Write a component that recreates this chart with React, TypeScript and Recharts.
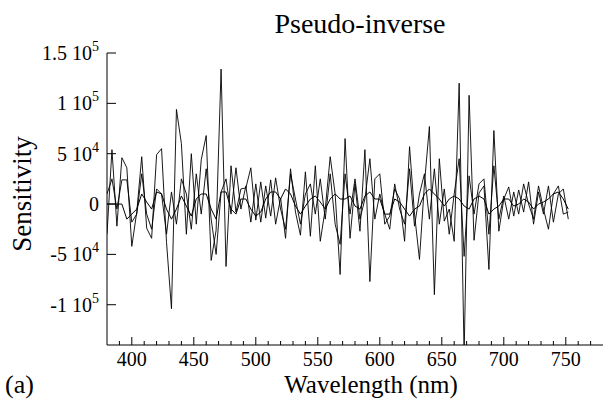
import React from 'react';
import { LineChart, Line, XAxis, YAxis } from 'recharts';

const wavelengths = [
  380, 384, 388, 392, 396, 400, 404, 408, 412, 416, 420, 424, 428, 432, 436, 440, 444, 448, 452, 456,
  460, 464, 468, 472, 476, 480, 484, 488, 492, 496, 500, 504, 508, 512, 516, 520, 524, 528, 532, 536,
  540, 544, 548, 552, 556, 560, 564, 568, 572, 576, 580, 584, 588, 592, 596, 600, 604, 608, 612, 616,
  620, 624, 628, 632, 636, 640, 644, 648, 652, 656, 660, 664, 668, 672, 676, 680, 684, 688, 692, 696,
  700, 704, 708, 712, 716, 720, 724, 728, 732, 736, 740, 744, 748, 752,
];

const seriesA = [
  -30000, 54000, -22000, 46000, 36000, -42000, -8000, 47000, -24000, -34000, 49000, 55000, -38000, -104000, 94000, 60000, -30000, 50000, -20000, 44000,
  68000, -56000, -26000, 134000, -62000, 38000, -8000, 15000, 16000, 36000, -16000, 22000, -14000, 24000, -20000, 6000, -34000, 35000, -8000, -31000,
  32000, -32000, 38000, -37000, -5000, 47000, 10000, -70000, 65000, -34000, 20000, -27000, 54000, -77000, 25000, 30000, -20000, -12000, 15000, 5000,
  -37000, 57000, -10000, -55000, 20000, 77000, -90000, 45000, -17000, -5000, -37000, 120000, -150000, 108000, -36000, 11000, 18000, -65000, 73000, -27000,
  5000, 17000, -12000, 14000, -8000, 22000, -20000, 12000, -10000, 18000, -18000, 10000, 15000, -15000,
];

const seriesB = [
  10000, 25000, -5000, 24000, 24000, -18000, -10000, 30000, -10000, -25000, 15000, 10000, -30000, 12000, -20000, 25000, 10000, -25000, 30000, -10000,
  35000, -15000, -50000, 12000, 25000, -10000, 36000, -5000, 18000, -18000, 20000, -18000, 18000, -12000, 26000, -5000, -25000, 30000, 5000, -20000,
  10000, 20000, -10000, 25000, -15000, 30000, -20000, -40000, 30000, -10000, 25000, -15000, 5000, 45000, -15000, 10000, -10000, -25000, 20000, -5000,
  -20000, 35000, -22000, 10000, 30000, -15000, 35000, -20000, 15000, -30000, 10000, 45000, -52000, 28000, -10000, 20000, 25000, -30000, 38000, -15000,
  8000, -15000, 12000, -10000, 20000, 0, -15000, 18000, -5000, -25000, 10000, 18000, -10000, -8000,
];

const seriesC = [
  0, 0, 0, 0, -15000, -10000, -5000, 10000, 2000, -5000, 12000, 10000, -5000, -15000, -5000, 8000, -2000, -12000, 5000, 10000,
  10000, -5000, -15000, 12000, 12000, -5000, -10000, 5000, 5000, -5000, -12000, -8000, 5000, 12000, 12000, 5000, 15000, 10000, -2000, -10000,
  -2000, 5000, 8000, 2000, -5000, 5000, 10000, 5000, 5000, 8000, -2000, -5000, 8000, 12000, 5000, 5000, -10000, -10000, 5000, 2000,
  -5000, -12000, -5000, -2000, 10000, 15000, 10000, 5000, -2000, 5000, 8000, 5000, -2000, -5000, 5000, 8000, 5000, -10000, -5000, -2000,
  5000, 5000, -2000, 0, 5000, 2000, -5000, 0, 2000, 5000, 10000, 12000, 5000, -5000,
];

const xTicks = [390, 400, 410, 420, 430, 440, 450, 460, 470, 480, 490, 500, 510, 520, 530, 540, 550, 560, 570, 580, 590, 600, 610, 620, 630, 640, 650, 660, 670, 680, 690, 700, 710, 720, 730, 740, 750, 760, 770];
const xLabelTicks = [400, 450, 500, 550, 600, 650, 700, 750];
const yTicks = [-100000, -50000, 0, 50000, 100000, 150000];
const yTickMantissa = ['-1 10', '-5 10', '0', '5 10', '1 10', '1.5 10'];
const yTickExponent = ['5', '4', '', '4', '5', '5'];

const title = 'Pseudo-inverse';
const xTitle = 'Wavelength (nm)';
const yTitle = 'Sensitivity';
const panelTag = '(a)';

const data = wavelengths.map((wl, i) => ({ wl, a: seriesA[i], b: seriesB[i], c: seriesC[i] }));

const FONT = "'Liberation Serif', 'Times New Roman', Times, serif";

const XTick = (props: any) => {
  const { x, y, payload } = props;
  const v = payload.value;
  const isMajor = xLabelTicks.includes(v);
  return (
    <g>
      <line x1={x} x2={x} y1={y} y2={y - (isMajor ? 8 : 4)} stroke="#000" strokeWidth={1} />
      {isMajor ? (
        <text x={x} y={y + 21} textAnchor="middle" fontSize={20} fontFamily={FONT} fill="#000">
          {v}
        </text>
      ) : null}
    </g>
  );
};

const YTick = (props: any) => {
  const { x, y, payload } = props;
  const idx = yTicks.indexOf(payload.value);
  const mant = yTickMantissa[idx];
  const exp = yTickExponent[idx];
  return (
    <g>
      <line x1={x} x2={x + 9} y1={y} y2={y} stroke="#000" strokeWidth={1} />
      <text x={x - 8} y={y + 7} textAnchor="end" fontSize={20} fontFamily={FONT} fill="#000">
        {mant}
        {exp ? (
          <tspan dy={-9} fontSize={14}>
            {exp}
          </tspan>
        ) : null}
      </text>
    </g>
  );
};

export default function App() {
  return (
    <div style={{ position: 'absolute', left: 0, top: 0, width: 603, height: 400, overflow: 'hidden', background: '#fff' }}>
      <LineChart width={603} height={400} data={data} margin={{ top: 53, right: 0, left: 47, bottom: 25 }}>
        <XAxis
          dataKey="wl"
          type="number"
          domain={[380, 780]}
          ticks={xTicks}
          interval={0}
          tickSize={0}
          tickMargin={0}
          tickLine={false}
          tick={<XTick />}
          axisLine={{ stroke: '#000', strokeWidth: 1 }}
          height={30}
          allowDataOverflow
        />
        <YAxis
          type="number"
          domain={[-140000, 150000]}
          ticks={yTicks}
          interval={0}
          tickSize={0}
          tickMargin={0}
          tickLine={false}
          tick={<YTick />}
          axisLine={{ stroke: '#000', strokeWidth: 1 }}
          width={60}
          allowDataOverflow
        />
        <Line type="linear" dataKey="a" stroke="#000" strokeWidth={0.9} dot={false} isAnimationActive={false} />
        <Line type="linear" dataKey="b" stroke="#000" strokeWidth={0.9} dot={false} isAnimationActive={false} />
        <Line type="linear" dataKey="c" stroke="#000" strokeWidth={1} dot={false} isAnimationActive={false} />
      </LineChart>
      <svg width={603} height={400} style={{ position: 'absolute', left: 0, top: 0, pointerEvents: 'none' }}>
        <text x={360} y={33} textAnchor="middle" fontSize={28} fontFamily={FONT} fill="#000">{title}</text>
        <text x={371} y={393} textAnchor="middle" fontSize={25} fontFamily={FONT} fill="#000">{xTitle}</text>
        <text x={5} y={393} fontSize={26} fontFamily={FONT} fill="#000">{panelTag}</text>
        <text x={31} y={194} textAnchor="middle" fontSize={27} fontFamily={FONT} fill="#000" transform="rotate(-90, 31, 194)">{yTitle}</text>
      </svg>
    </div>
  );
}
